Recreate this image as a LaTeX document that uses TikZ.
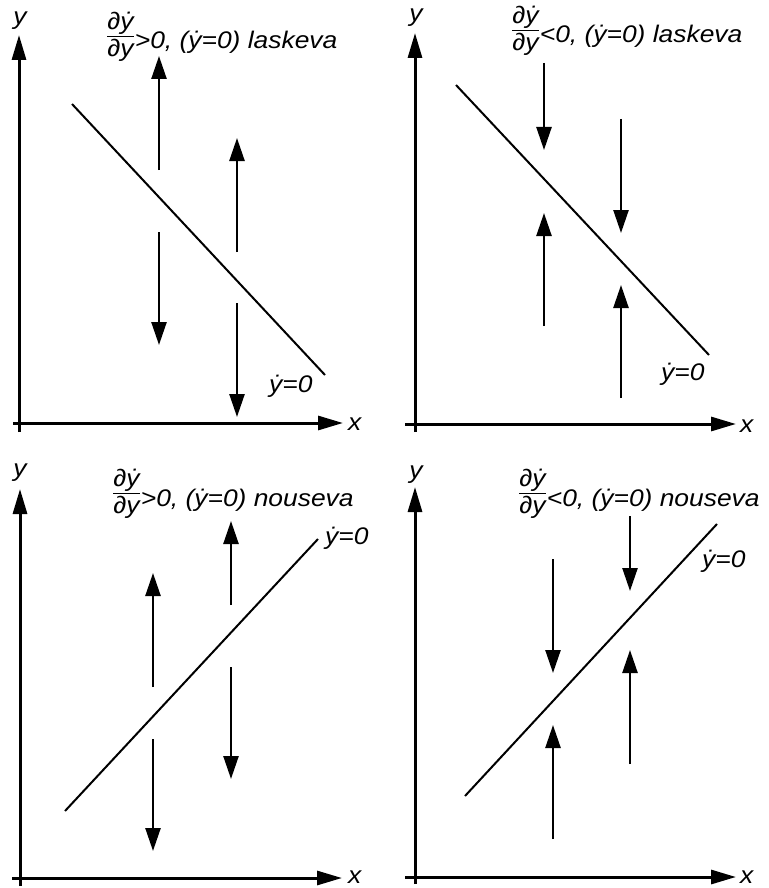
\documentclass[tikz,border=0pt]{standalone}
\usepackage{amsmath}
\usepackage{fontspec}
\setmainfont{Liberation Sans}[FakeStretch=1.1]
\usetikzlibrary{arrows.meta}

\newcommand{\slopefrac}{\raisebox{6pt}{$\genfrac{}{}{1.3pt}{1}{\mbox{∂ẏ}}{\mbox{∂y}}$}}

\begin{document}
\begin{tikzpicture}[
  x=1pt, y=-1pt,
  axis/.style={line width=3pt, -{Triangle[length=25pt,width=14pt]}},
  flow/.style={line width=2.5pt, -{Triangle[length=23pt,width=15pt]}},
  nullcline/.style={line width=2pt},
  lbl/.style={inner sep=0pt, font=\fontsize{24}{28}\selectfont\itshape},
]
\useasboundingbox (0,0) rectangle (768,888);

% top left: descending, unstable
\draw[axis] (19,432) -- (19,35);
\draw[axis] (13,423) -- (343,423);
\node[lbl, anchor=base] (yl1) at (20,25) {y};
\node[lbl, anchor=base west] (xl1) at (348,430) {x};
\draw[nullcline] (72,104) -- (325,375);
\draw[flow] (159,170) -- (159,56);
\draw[flow] (159,232) -- (159,345);
\draw[flow] (237,252) -- (237,138);
\draw[flow] (237,303) -- (237,417);
\node[lbl, anchor=base west] (t1) at (106,49) {\slopefrac>0, (ẏ=0) laskeva};
\node[lbl, anchor=base west] (n1) at (269,392) {ẏ=0};

% top right: descending, stable
\draw[axis] (415,432) -- (415,33);
\draw[axis] (405,424) -- (736,424);
\node[lbl, anchor=base] (yl2) at (416,22) {y};
\node[lbl, anchor=base west] (xl2) at (740,432) {x};
\draw[nullcline] (456,85) -- (709,355);
\draw[flow] (544,63) -- (544,150);
\draw[flow] (544,326) -- (544,213);
\draw[flow] (621,119) -- (621,233);
\draw[flow] (621,398) -- (621,285);
\node[lbl, anchor=base west] (t2) at (511,43) {\slopefrac<0, (ẏ=0) laskeva};
\node[lbl, anchor=base west] (n2) at (661,380) {ẏ=0};

% bottom left: ascending, unstable
\draw[axis] (20,886) -- (20,489);
\draw[axis] (12,878) -- (342,878);
\node[lbl, anchor=base] (yl3) at (20,476) {y};
\node[lbl, anchor=base west] (xl3) at (348,883) {x};
\draw[nullcline] (65,811) -- (318,539);
\draw[flow] (153,687) -- (153,573);
\draw[flow] (153,739) -- (153,851);
\draw[flow] (231,605) -- (231,521);
\draw[flow] (231,667) -- (231,779);
\node[lbl, anchor=base west] (t3) at (112,506) {\slopefrac>0, (ẏ=0) nouseva};
\node[lbl, anchor=base west] (n3) at (325,544) {ẏ=0};

% bottom right: ascending, stable
\draw[axis] (415,884) -- (415,487);
\draw[axis] (405,877) -- (736,877);
\node[lbl, anchor=base] (yl4) at (416,478) {y};
\node[lbl, anchor=base west] (xl4) at (740,883) {x};
\draw[nullcline] (465,796) -- (717,524);
\draw[flow] (553,559) -- (553,673);
\draw[flow] (553,839) -- (553,725);
\draw[flow] (630,516) -- (630,591);
\draw[flow] (630,764) -- (630,650);
\node[lbl, anchor=base west] (t4) at (518,506) {\slopefrac<0, (ẏ=0) nouseva};
\node[lbl, anchor=base west] (n4) at (702,567) {ẏ=0};

\end{tikzpicture}
\end{document}
